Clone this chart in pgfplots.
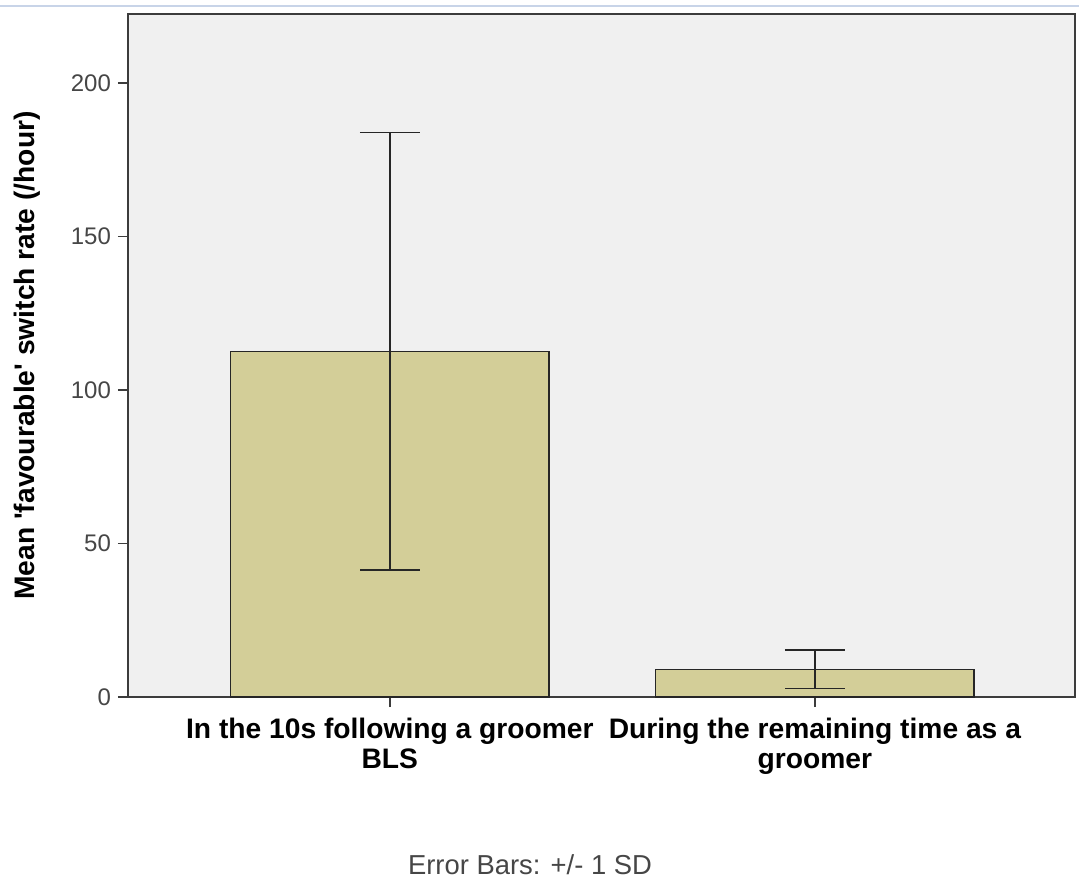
\documentclass[border=0pt]{standalone}
\usepackage{pgfplots}
\pgfplotsset{compat=1.18}
\usepackage{fontspec}
\setmainfont{Liberation Sans}
\definecolor{barfill}{RGB}{211,206,152}
\definecolor{bgfill}{RGB}{240,240,240}
\definecolor{axisgray}{RGB}{60,60,60}
\definecolor{tickgray}{RGB}{70,70,70}
\begin{document}
\begin{tikzpicture}
\path[use as bounding box] (-64pt,-91pt) rectangle (475.5pt,348.5pt);
\draw[color={rgb,255:red,200;green,212;blue,232}, line width=0.8pt] (-64pt,345.5pt) -- (475.5pt,345.5pt);
\begin{axis}[
  scale only axis,
  width=473.5pt, height=341.5pt,
  at={(0,0)}, anchor=south west,
  xmin=-0.616, xmax=1.612,
  ymin=0, ymax=222.5,
  axis background/.style={fill=bgfill},
  axis line style={axisgray, line width=0.9pt},
  ytick={0,50,100,150,200},
  xtick={0,1},
  xticklabels={{In the 10s following a groomer\\BLS},{During the remaining time as a\\groomer}},
  xticklabel style={align=center, font=\bfseries\fontsize{14.1}{15}\selectfont, text=black, yshift=-2pt},
  yticklabel style={font=\fontsize{12}{14}\selectfont, text=tickgray},
  /pgf/number format/assume math mode=true,
  tick align=outside,
  major tick length=5pt,
  tick style={axisgray, line width=0.9pt},
  xtick pos=bottom, ytick pos=left,
  ybar, bar width=0.75,
]
\addplot[fill=barfill, draw=black!85, line width=0.8pt,
  error bars/.cd, y dir=both, y explicit, error mark=|,
  error mark options={mark size=15pt, line width=0.7pt, black!85},
  error bar style={line width=0.7pt, black!85}]
  coordinates {(0,112.6) +- (0,71.2) (1,9.0) +- (0,6.3)};
\end{axis}
\node[rotate=90, font=\bfseries\fontsize{14.1}{15}\selectfont] at (-50.5pt,170.75pt) {Mean \textquotesingle favourable\textquotesingle\ switch rate (/hour)};
\node[font=\fontsize{13.7}{15}\selectfont, text=tickgray] at (201pt,-84pt) {Error Bars: +/- 1 SD};
\end{tikzpicture}
\end{document}
